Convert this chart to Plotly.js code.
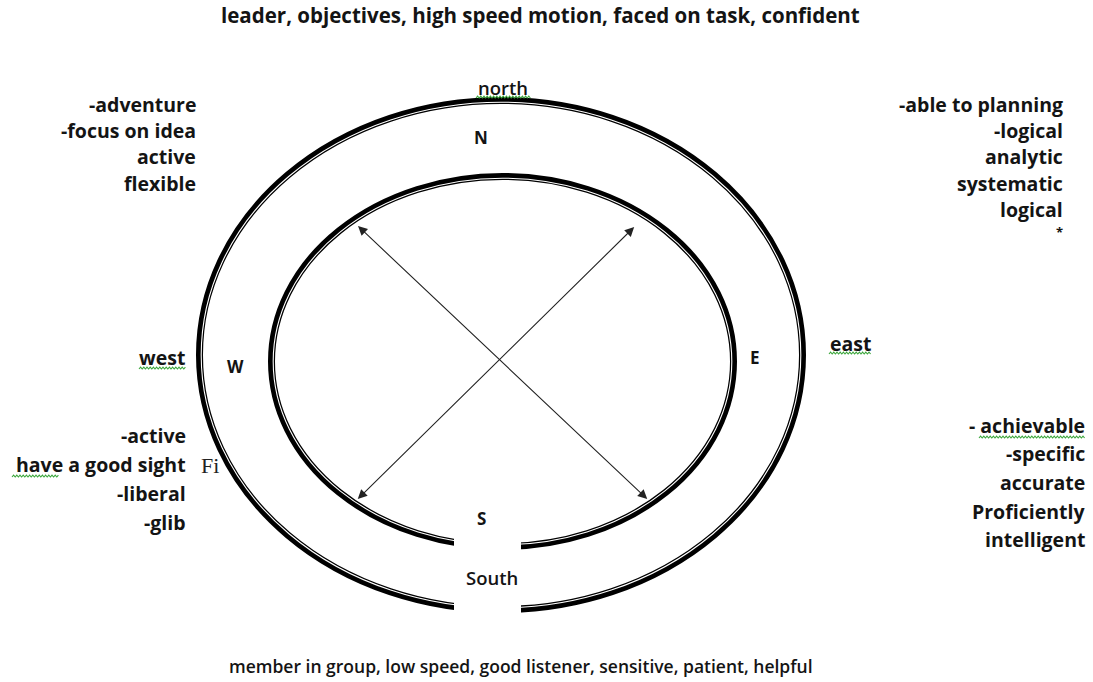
<!DOCTYPE html>
<html>
<head>
<meta charset="utf-8">
<script src="https://cdn.plot.ly/plotly-3.0.1.min.js"></script>
<style>html,body{margin:0;padding:0;background:#fff;}#chart{width:1093px;height:682px;}</style>
</head>
<body>
<div id="chart"></div>
<script>
// ---- Content ----
const northTraits = "leader, objectives, high speed motion, faced on task, confident";
const southTraits = "member in group, low speed, good listener, sensitive, patient, helpful";
const northWestTraits = ["-adventure", "-focus on idea", "active", "flexible"];
const northEastTraits = ["-able to planning", "-logical", "analytic", "systematic", "logical", "*"];
const southWestTraits = ["-active", "have a good sight", "-liberal", "-glib"];
const southEastTraits = ["- achievable", "-specific", "accurate", "Proficiently", "intelligent"];
const poleNames = ["north", "east", "South", "west"];
const poleLetters = ["N", "E", "S", "W"];
const arrowAngles = [130.4, 52, 230, 310];      // parametric angle of each arrow tip on the inner ellipse
const arrowReach = [0.98, 0.94, 1.0, 1.0];      // how far each tip reaches towards the ring

// ---- Layout geometry ----
const W = 1093, H = 682;
const FONT = "'Open Sans', 'Noto Sans', sans-serif";
const FS = 19.5;
const outer = {x0: 196, x1: 806, y0: 97, y1: 613};
const inner = {x0: 268, x1: 737, y0: 173, y1: 550};

const shapes = [];
const annotations = [];

function ring(b) {
  shapes.push({type: 'circle', xref: 'x', yref: 'y', x0: b.x0 + 3.5, x1: b.x1 - 3.5, y0: b.y0 + 3.5, y1: b.y1 - 3.5,
    line: {color: '#000', width: 7}, fillcolor: 'rgba(0,0,0,0)'});
  shapes.push({type: 'circle', xref: 'x', yref: 'y', x0: b.x0 + 5.2, x1: b.x1 - 5.2, y0: b.y0 + 5.2, y1: b.y1 - 5.2,
    line: {color: '#fff', width: 1.1}, fillcolor: 'rgba(0,0,0,0)'});
}
ring(outer);
ring(inner);
// openings at the south side of both rings
shapes.push({type: 'rect', xref: 'x', yref: 'y', x0: 454, x1: 521, y0: inner.y1 - 12, y1: inner.y1 + 3, line: {width: 0}, fillcolor: '#fff'});
shapes.push({type: 'rect', xref: 'x', yref: 'y', x0: 454, x1: 521, y0: outer.y1 - 12, y1: outer.y1 + 3, line: {width: 0}, fillcolor: '#fff'});

function squiggle(x0, x1, y) {
  let d = 'M' + x0 + ',' + y;
  let up = true;
  for (let x = x0 + 1.6; x <= x1; x += 1.6) { d += ' L' + x.toFixed(1) + ',' + (up ? y - 1.8 : y); up = !up; }
  shapes.push({type: 'path', xref: 'x', yref: 'y', path: d, line: {color: '#3aa63a', width: 1.1}});
}

function txt(t, x, y, xa, size, weight, opts) {
  annotations.push(Object.assign({xref: 'x', yref: 'y', x: x, y: y, text: t, showarrow: false,
    xanchor: xa, yanchor: 'middle', font: {family: FONT, size: size, color: '#141414', weight: weight}}, opts || {}));
}

// Top and bottom descriptions
txt(northTraits, 540, 15, 'center', 20.5, 700);
txt(southTraits, 521, 666, 'center', 17.5, 600);

// Side trait blocks
northWestTraits.forEach((t, i) => txt(t, 198, 104 + i * 26.4, 'right', FS, 700));
northEastTraits.forEach((t, i) => txt(t, 1065, i < 5 ? 104 + i * 26.4 : 232, 'right', i < 5 ? FS : 13, 700));
southWestTraits.forEach((t, i) => txt(t, 188, 435 + i * 29, 'right', FS, 700));
southEastTraits.forEach((t, i) => txt(t, 1087, 425 + i * 28.7, 'right', FS, 700));
txt('Fi', 199, 465, 'left', 22, 400, {font: {family: "'Liberation Serif', serif", size: 22, color: '#222'}});

// Pole names and letters
const polePos = {north: [503, 87, 'center', 600], east: [828, 343, 'left', 700], South: [492, 577, 'center', 600], west: [187, 357, 'right', 700]};
poleNames.forEach(p => txt(p, polePos[p][0], polePos[p][1], polePos[p][2], p === 'north' || p === 'South' ? 18.5 : FS, polePos[p][3]));
const letterPos = {N: [481, 137], E: [755, 357], S: [481, 518], W: [235, 366]};
poleLetters.forEach(l => txt(l, letterPos[l][0], letterPos[l][1], 'center', 17, 700));

// spell-check underlines
squiggle(476, 532, 98);
squiggle(139, 186, 369);
squiggle(829, 871, 354);
squiggle(12, 60, 477);
squiggle(979, 1086, 438);

// Double-headed diagonal arrows across the inner ellipse
const rx = (inner.x1 - inner.x0) / 2 - 7, ry = (inner.y1 - inner.y0) / 2 - 7;
const cx = (inner.x0 + inner.x1) / 2, cy = (inner.y0 + inner.y1) / 2;
function tip(i) {
  const r = arrowAngles[i] * Math.PI / 180;
  return [cx + Math.cos(r) * rx * arrowReach[i], cy - Math.sin(r) * ry * arrowReach[i]];
}
[[0, 3], [1, 2]].forEach(pair => {
  const a = tip(pair[0]), b = tip(pair[1]);
  annotations.push({xref: 'x', yref: 'y', axref: 'x', ayref: 'y', x: a[0], y: a[1], ax: b[0], ay: b[1],
    text: '', showarrow: true, arrowside: 'end+start', arrowhead: 2, startarrowhead: 2,
    arrowsize: 1.7, startarrowsize: 1.7, arrowwidth: 1.1, arrowcolor: '#222', standoff: 0, startstandoff: 0});
});

const layout = {
  width: W, height: H, margin: {l: 0, r: 0, t: 0, b: 0},
  paper_bgcolor: '#fff', plot_bgcolor: '#fff', showlegend: false,
  xaxis: {range: [0, W], visible: false, fixedrange: true},
  yaxis: {range: [H, 0], visible: false, fixedrange: true},
  shapes: shapes, annotations: annotations
};
Plotly.newPlot('chart', [], layout, {displayModeBar: false, staticPlot: true});
</script>
</body>
</html>
